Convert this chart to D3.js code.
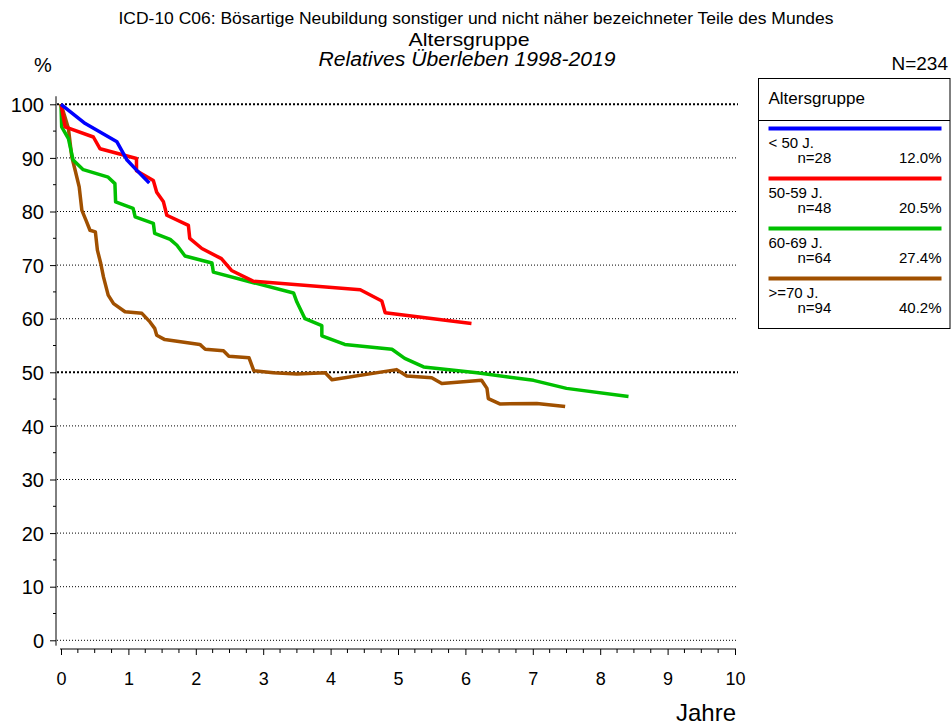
<!DOCTYPE html>
<html lang="de">
  <head>
    <meta charset="utf-8">
    <title>ICD-10 C06 | Relatives Überleben | Altersgruppe</title>

    <!-- D3 v7 -->
    <script type="text/javascript" src="https://cdn.jsdelivr.net/npm/d3@7"></script>

    <!-- CSS *********************************************************************** -->
    <style>
      body {
        margin: 0;
        font-family: 'Liberation Sans', Arial, sans-serif;
        background: #ffffff;
      }
      .grid-line {
        stroke: #000000;
        stroke-width: 1;
        stroke-dasharray: 1, 2;
      }
      .grid-line.bold {
        stroke-width: 2;
        stroke-dasharray: 2, 2;
      }
      .surv-line {
        fill: none;
        stroke-width: 3.5;
        stroke-linejoin: round;
      }
      .axis path,
      .axis line {
        stroke: #000000;
        stroke-width: 1;
      }
      .axis text {
        font-family: 'Liberation Sans', Arial, sans-serif;
        fill: #000000;
      }
    </style>
  </head>
  <body>
    <!-- HTML ********************************************************************** -->

    <div id="surv-vis"></div>

    <!-- JAVASCRIPT **************************************************************** -->
    <script type="text/javascript">

      // data: [years, percent]
      var survUnder50 = [[0, 100], [0.36, 96.4], [0.83, 93.0], [0.98, 89.6], [1.1, 88.0], [1.31, 85.3]];

      var surv50to59 = [[0, 100], [0.06, 95.8], [0.48, 93.9], [0.58, 91.7], [1.12, 89.9], [1.12, 87.6],
        [1.37, 85.8], [1.42, 83.6], [1.52, 81.8], [1.57, 79.3], [1.89, 77.4], [1.91, 75.0], [2.09, 73.1],
        [2.38, 71.2], [2.53, 69.0], [2.85, 67.0], [4.44, 65.4], [4.76, 63.3], [4.81, 61.1], [6.09, 59.1]];

      var surv60to69 = [[0, 100], [0.01, 95.8], [0.11, 93.6], [0.18, 89.6], [0.33, 87.8], [0.70, 86.4],
        [0.80, 85.2], [0.81, 81.8], [1.07, 80.6], [1.10, 79.0], [1.37, 77.8], [1.39, 75.9], [1.62, 74.8],
        [1.72, 73.7], [1.84, 71.7], [2.24, 70.4], [2.26, 68.7], [2.80, 66.9], [3.45, 64.8], [3.50, 63.1],
        [3.62, 60.0], [3.87, 58.7], [3.87, 56.8], [4.21, 55.2], [4.91, 54.3], [5.10, 52.6], [5.38, 51.0],
        [6.17, 49.9], [7.01, 48.5], [7.50, 47.0], [8.42, 45.5]];

      var surv70plus = [[0, 100], [0.06, 97.6], [0.11, 95.5], [0.16, 90.2], [0.21, 87.7], [0.27, 84.6],
        [0.31, 80.2], [0.37, 78.4], [0.43, 76.5], [0.51, 76.2], [0.54, 72.8], [0.59, 70.3], [0.63, 67.8],
        [0.70, 64.4], [0.78, 62.8], [0.95, 61.3], [1.20, 61.0], [1.32, 59.4], [1.39, 58.2], [1.42, 56.9],
        [1.54, 56.1], [2.06, 55.2], [2.14, 54.3], [2.41, 54.0], [2.49, 53.0], [2.79, 52.7], [2.86, 50.3],
        [3.15, 49.9], [3.50, 49.7], [3.92, 49.9], [4.02, 48.6], [4.98, 50.5], [5.13, 49.3], [5.50, 49.0],
        [5.65, 47.9], [6.24, 48.5], [6.32, 47.0], [6.34, 45.1], [6.51, 44.1], [7.06, 44.2], [7.48, 43.6]];

      var groupLabels = ['< 50 J.', '50-59 J.', '60-69 J.', '>=70 J.'];
      var groupN = [28, 48, 64, 94];
      var groupPct = ['12.0%', '20.5%', '27.4%', '40.2%'];
      var groupColors = ['#0000ff', '#ff0000', '#00c000', '#a05000'];

      var xTicks = [0, 1, 2, 3, 4, 5, 6, 7, 8, 9, 10];
      var yTicks = [0, 10, 20, 30, 40, 50, 60, 70, 80, 90, 100];

      var titleLines = [
        'ICD-10 C06: Bösartige Neubildung sonstiger und nicht näher bezeichneter Teile des Mundes',
        'Altersgruppe',
        'Relatives Überleben 1998-2019'
      ];

      var w = 951;
      var h = 728;

      var svg = d3.select('#surv-vis')
        .append('svg')
          .attr('width', w)
          .attr('height', h);

      var x = d3.scaleLinear()
        .domain([0, 10])
        .range([61, 735]);

      var y = d3.scaleLinear()
        .domain([0, 100])
        .range([640.3, 104.3]);

      // titles
      svg.append('text')
        .attr('x', 476)
        .attr('y', 24)
        .attr('text-anchor', 'middle')
        .attr('font-size', 17)
        .attr('textLength', 715)
        .attr('lengthAdjust', 'spacingAndGlyphs')
        .text(titleLines[0]);

      svg.append('text')
        .attr('x', 469)
        .attr('y', 46)
        .attr('text-anchor', 'middle')
        .attr('font-size', 19)
        .attr('textLength', 121)
        .attr('lengthAdjust', 'spacingAndGlyphs')
        .text(titleLines[1]);

      svg.append('text')
        .attr('x', 467)
        .attr('y', 66)
        .attr('text-anchor', 'middle')
        .attr('font-size', 20)
        .attr('font-style', 'italic')
        .attr('textLength', 297)
        .attr('lengthAdjust', 'spacingAndGlyphs')
        .text(titleLines[2]);

      svg.append('text')
        .attr('x', 34)
        .attr('y', 72)
        .attr('font-size', 20)
        .text('%');

      svg.append('text')
        .attr('x', 948)
        .attr('y', 70)
        .attr('text-anchor', 'end')
        .attr('font-size', 19)
        .text('N=234');

      // gridlines
      svg.append('g')
        .selectAll('line')
        .data(yTicks)
        .enter()
        .append('line')
          .attr('class', function(d) { return (d == 100 || d == 50) ? 'grid-line bold' : 'grid-line'; })
          .attr('x1', 57)
          .attr('x2', 738)
          .attr('y1', function(d) { return y(d); })
          .attr('y2', function(d) { return y(d); });

      // y axis
      var yAxis = svg.append('g')
        .attr('class', 'axis')
        .attr('transform', 'translate(56, 0)')
        .call(d3.axisLeft(y).tickValues(yTicks).tickSize(6).tickSizeOuter(0).tickPadding(6));
      yAxis.select('.domain').attr('d', 'M0,' + y(101.5) + 'V' + y(-1));
      yAxis.selectAll('text').attr('font-size', 20).attr('dy', '0.36em');

      yAxis.selectAll('.minor')
        .data(d3.range(5, 100, 10))
        .enter()
        .append('line')
          .attr('class', 'minor')
          .attr('x1', -3)
          .attr('x2', 0)
          .attr('y1', function(d) { return y(d); })
          .attr('y2', function(d) { return y(d); });

      // x axis
      var xAxis = svg.append('g')
        .attr('class', 'axis')
        .attr('transform', 'translate(0, 649)')
        .call(d3.axisBottom(x).tickValues(xTicks).tickSize(6).tickSizeOuter(0).tickPadding(17));
      xAxis.select('.domain').attr('d', 'M' + (x(0) - 1) + ',0H' + (x(10) + 1));
      xAxis.selectAll('text').attr('font-size', 18);

      xAxis.selectAll('.minor')
        .data(d3.range(0.25, 10, 0.25).filter(function(d) { return d % 1 != 0; }))
        .enter()
        .append('line')
          .attr('class', 'minor')
          .attr('x1', function(d) { return x(d); })
          .attr('x2', function(d) { return x(d); })
          .attr('y1', 0)
          .attr('y2', 4);

      svg.append('text')
        .attr('x', 736)
        .attr('y', 721)
        .attr('text-anchor', 'end')
        .attr('font-size', 24)
        .text('Jahre');

      // survival curves
      var line = d3.line()
        .x(function(d) { return x(d[0]); })
        .y(function(d) { return y(d[1]); });

      var curves = [survUnder50, surv50to59, surv60to69, surv70plus];

      svg.append('g')
        .selectAll('path')
        .data(curves.slice().reverse())
        .enter()
        .append('path')
          .attr('class', 'surv-line')
          .attr('d', line)
          .attr('stroke', function(d, i) { return groupColors[3 - i]; });

      // legend
      var legend = svg.append('g')
        .attr('transform', 'translate(758.5, 78.5)');

      legend.append('rect')
        .attr('width', 191.5)
        .attr('height', 250)
        .attr('fill', '#ffffff')
        .attr('stroke', '#000000')
        .attr('stroke-width', 1);

      legend.append('line')
        .attr('x1', 0)
        .attr('x2', 191.5)
        .attr('y1', 42)
        .attr('y2', 42)
        .attr('stroke', '#000000');

      legend.append('text')
        .attr('x', 10)
        .attr('y', 25)
        .attr('font-size', 17)
        .text('Altersgruppe');

      var entries = legend.selectAll('.legend-entry')
        .data(groupLabels)
        .enter()
        .append('g')
          .attr('class', 'legend-entry')
          .attr('transform', function(d, i) { return 'translate(0,' + (50 + i * 50) + ')'; });

      entries.append('line')
        .attr('x1', 10)
        .attr('x2', 183)
        .attr('y1', 0)
        .attr('y2', 0)
        .attr('stroke-width', 4)
        .attr('stroke', function(d, i) { return groupColors[i]; });

      entries.append('text')
        .attr('x', 10)
        .attr('y', 19)
        .attr('font-size', 15)
        .text(function(d) { return d; });

      entries.append('text')
        .attr('x', 39)
        .attr('y', 34)
        .attr('font-size', 15)
        .text(function(d, i) { return 'n=' + groupN[i]; });

      entries.append('text')
        .attr('x', 183)
        .attr('y', 34)
        .attr('text-anchor', 'end')
        .attr('font-size', 15)
        .text(function(d, i) { return groupPct[i]; });

    </script>

  </body>
</html>
